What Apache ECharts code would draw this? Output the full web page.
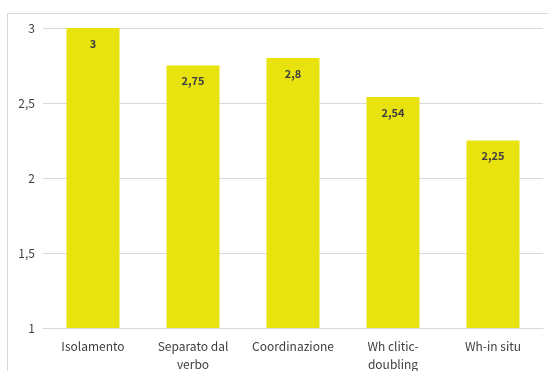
<!DOCTYPE html>
<html>
<head>
<meta charset="utf-8">
<script src="https://cdn.jsdelivr.net/npm/echarts@6/dist/echarts.min.js"></script>
<style>
  html, body { margin: 0; padding: 0; background: #ffffff; }
  #chart { width: 548px; height: 371px; }
</style>
</head>
<body>
<div id="chart"></div>
<script>
// Categories and mean scores
const categories = ['Isolamento', 'Separato dal\nverbo', 'Coordinazione', 'Wh clitic-\ndoubling', 'Wh-in situ'];
const values = [3, 2.75, 2.8, 2.54, 2.25];
const yTicks = [1, 1.5, 2, 2.5, 3];

const comma = v => String(v).replace('.', ',');
const font = '"Noto Sans CJK SC", "Noto Sans", sans-serif';

const chart = echarts.init(document.getElementById('chart'), null, { renderer: 'canvas' });
chart.setOption({
  animation: false,
  backgroundColor: '#ffffff',
  graphic: [{
    type: 'rect',
    shape: { x: 7.5, y: 13.5, width: 560, height: 380 },
    style: { fill: 'none', stroke: '#d9d9d9', lineWidth: 1 },
    silent: true
  }],
  grid: { left: 43, right: 5, top: 28, bottom: 43, outerBoundsMode: 'none', containLabel: false },
  xAxis: {
    type: 'category',
    data: categories,
    axisTick: { show: false },
    axisLine: { lineStyle: { color: '#d9d9d9', width: 1 } },
    axisLabel: {
      color: '#404040', fontSize: 12, fontFamily: font,
      margin: 9, lineHeight: 18, interval: 0
    }
  },
  yAxis: {
    type: 'value',
    min: yTicks[0], max: yTicks[yTicks.length - 1], interval: 0.5,
    axisLine: { show: false },
    axisTick: { show: false },
    splitLine: { lineStyle: { color: '#d9d9d9', width: 1 } },
    axisLabel: {
      color: '#404040', fontSize: 12, fontFamily: font, margin: 8,
      formatter: v => comma(v)
    }
  },
  series: [{
    type: 'bar',
    data: values,
    barWidth: 53,
    itemStyle: { color: '#e8e30e' },
    label: {
      show: true, position: 'insideTop', distance: 10,
      color: '#404040', fontSize: 11, fontWeight: 'bold', fontFamily: font,
      formatter: p => comma(p.value)
    }
  }]
});
</script>
</body>
</html>
